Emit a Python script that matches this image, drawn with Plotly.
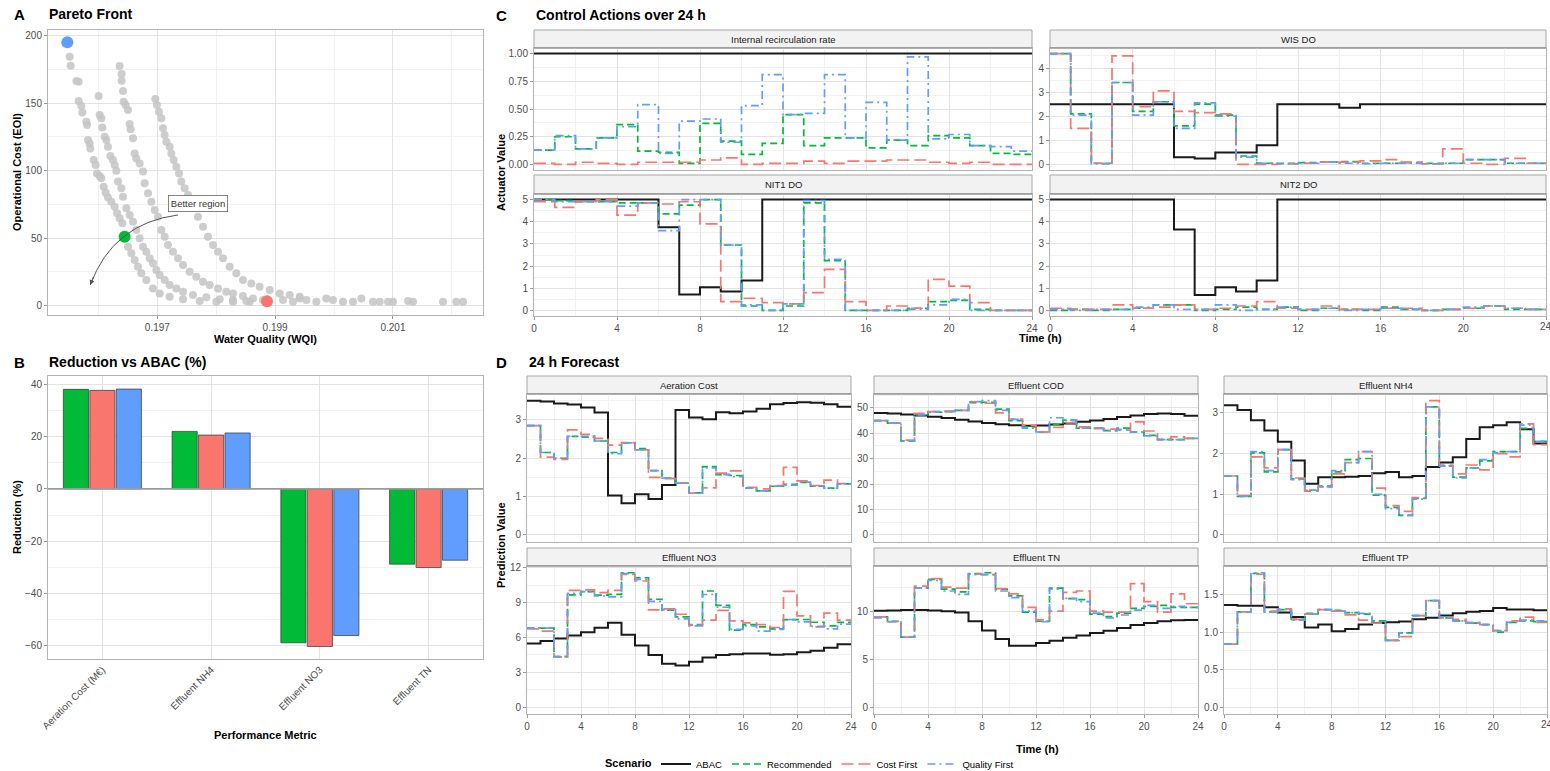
import plotly.graph_objects as go

W, H = 1550, 771
FONT = "Liberation Sans"

# ---------------- Panel A data ----------------
front_wqi = [
    0.195512, 0.195529, 0.195625, 0.195664, 0.195664, 0.195710, 0.195727, 0.195795, 0.195806, 0.195823,
    0.195851, 0.195862, 0.195919, 0.195953, 0.195976, 0.196021, 0.196049, 0.196089, 0.196123, 0.196162,
    0.196219, 0.196276, 0.196315, 0.196360, 0.196406, 0.196502, 0.196559, 0.196615, 0.196672, 0.196728,
    0.196813, 0.196926, 0.197040, 0.197209, 0.197436, 0.197719, 0.198002, 0.198285, 0.198568,
    0.196004, 0.196021, 0.196049, 0.196066, 0.196106, 0.196134, 0.196162, 0.196202, 0.196247, 0.196276,
    0.196304, 0.196332, 0.196389, 0.196417, 0.196474, 0.196530, 0.196587, 0.196643, 0.196700, 0.196757,
    0.196813, 0.196870, 0.196926, 0.196983, 0.197040, 0.197125, 0.197209, 0.197323, 0.197436, 0.197606,
    0.197832, 0.198058, 0.198285, 0.198511,
    0.196360, 0.196394, 0.196394, 0.196417, 0.196428, 0.196462, 0.196502, 0.196530, 0.196547, 0.196587,
    0.196615, 0.196643, 0.196700, 0.196757, 0.196785, 0.196842, 0.196898, 0.196955, 0.197011, 0.197068,
    0.197125, 0.197181, 0.197266, 0.197351, 0.197436, 0.197549, 0.197662, 0.197775, 0.197889, 0.198030,
    0.198171, 0.198285, 0.198454, 0.198624, 0.198794,
    0.196966, 0.196994, 0.197028, 0.197068, 0.197096, 0.197125, 0.197153, 0.197209, 0.197238, 0.197277,
    0.197323, 0.197368, 0.197407, 0.197464, 0.197521, 0.197606, 0.197690, 0.197775, 0.197860, 0.197945,
    0.198030, 0.198115, 0.198228, 0.198341, 0.198454, 0.198596, 0.198737, 0.198907, 0.199077, 0.199247,
    0.199417,
    0.199134, 0.199303, 0.199417, 0.199530, 0.199699, 0.199869, 0.199982, 0.200152, 0.200322, 0.200464,
    0.200662, 0.200775, 0.200916, 0.201001, 0.201256, 0.201341, 0.201850, 0.202076, 0.202190,
]
front_eoi = [
    184.4, 177.8, 166.4, 165.9, 151.6, 147.9, 143.0, 136.3, 133.8, 122.7,
    120.2, 116.5, 107.9, 104.2, 98.0, 96.0, 94.3, 88.1, 83.7, 80.2,
    77.0, 73.3, 68.4, 64.7, 61.0, 43.7, 38.8, 33.8, 28.9, 24.0,
    19.0, 12.8, 9.1, 6.7, 4.7, 3.5, 3.0, 3.0, 3.0,
    155.3, 141.2, 138.8, 131.9, 125.2, 122.7, 117.8, 110.9, 107.9, 104.2,
    100.0, 91.9, 86.9, 80.7, 72.1, 67.2, 62.2, 56.0, 49.9, 43.7,
    40.0, 35.1, 31.4, 26.4, 22.7, 19.0, 15.3, 12.8, 10.4, 7.9,
    6.2, 4.7, 4.2, 3.5,
    177.5, 171.6, 166.7, 159.0, 151.1, 148.6, 144.9, 134.6, 130.6, 124.0,
    112.8, 109.1, 105.4, 99.3, 90.6, 83.2, 77.0, 70.9, 65.9, 56.0,
    51.1, 44.9, 40.0, 35.1, 30.1, 25.2, 21.5, 17.8, 15.3, 12.8,
    10.4, 9.1, 7.2, 5.4, 4.2,
    153.1, 148.6, 143.7, 138.8, 131.4, 126.4, 121.5, 117.8, 112.8, 107.9,
    103.0, 98.0, 91.9, 86.9, 82.0, 74.6, 65.9, 58.5, 51.1, 44.9,
    40.0, 35.1, 28.9, 24.0, 19.0, 16.5, 14.1, 11.6, 9.1, 7.9,
    6.7,
    4.2, 3.0, 5.4, 4.2, 3.0, 5.4, 4.2, 3.0, 3.0, 5.4,
    3.0, 3.0, 3.0, 3.0, 3.5, 3.0, 3.0, 3.0, 3.0,
]
sel_names = ["Quality First", "Recommended", "Cost First"]
sel_wqi = [0.195472, 0.196445, 0.198862]
sel_eoi = [195.1, 51.1, 3.2]

# ---------------- Panel B data ----------------
metrics = ["Aeration Cost (M€)", "Effluent NH4", "Effluent NO3", "Effluent TN"]
red_recommended = [38.1, 22.0, -58.9, -28.8]
red_cost_first = [37.7, 20.6, -60.3, -30.1]
red_quality_first = [38.2, 21.4, -56.1, -27.3]

# ---------------- Panel C data (hourly) ----------------
hours = [0, 1, 2, 3, 4, 5, 6, 7, 8, 9, 10, 11, 12, 13, 14, 15, 16, 17, 18, 19, 20, 21, 22, 23]
edge_tick_label = "24"

ir_abac = [1.0, 1.0, 1.0, 1.0, 1.0, 1.0, 1.0, 1.0, 1.0, 1.0, 1.0, 1.0, 1.0, 1.0, 1.0, 1.0, 1.0, 1.0, 1.0, 1.0, 1.0, 1.0, 1.0, 1.0]
ir_rec = [0.13, 0.25, 0.14, 0.24, 0.36, 0.12, 0.11, 0.01, 0.37, 0.21, 0.09, 0.19, 0.45, 0.17, 0.24, 0.24, 0.15, 0.22, 0.17, 0.26, 0.24, 0.17, 0.10, 0.09]
ir_cf = [0.01, 0.00, 0.02, 0.01, 0.00, 0.02, 0.02, 0.02, 0.04, 0.06, 0.00, 0.01, 0.01, 0.03, 0.01, 0.03, 0.03, 0.04, 0.04, 0.02, 0.01, 0.02, 0.00, 0.00]
ir_qf = [0.13, 0.26, 0.14, 0.24, 0.34, 0.54, 0.10, 0.39, 0.41, 0.20, 0.53, 0.81, 0.45, 0.46, 0.81, 0.24, 0.56, 0.22, 0.97, 0.23, 0.27, 0.17, 0.16, 0.12]

wis_abac = [2.5, 2.5, 2.5, 2.5, 2.5, 2.5, 0.3, 0.25, 0.5, 0.5, 0.8, 2.5, 2.5, 2.5, 2.35, 2.5, 2.5, 2.5, 2.5, 2.5, 2.5, 2.5, 2.5, 2.5]
wis_rec = [4.6, 2.1, 0.05, 3.4, 2.2, 2.6, 1.6, 2.5, 2.05, 0.35, 0.05, 0.05, 0.08, 0.1, 0.12, 0.05, 0.05, 0.08, 0.05, 0.05, 0.2, 0.2, 0.05, 0.05]
wis_cf = [4.6, 1.5, 0.05, 4.5, 2.4, 3.05, 2.2, 2.15, 2.1, 0.0, 0.0, 0.02, 0.05, 0.1, 0.1, 0.15, 0.2, 0.1, 0.02, 0.65, 0.05, 0.0, 0.25, 0.05]
wis_qf = [4.6, 2.05, 0.02, 3.4, 2.05, 2.6, 1.5, 2.55, 2.0, 0.3, 0.05, 0.03, 0.05, 0.1, 0.05, 0.03, 0.05, 0.05, 0.03, 0.05, 0.2, 0.2, 0.05, 0.05]

nit1_abac = [5, 5, 5, 5, 5, 5, 3.75, 0.72, 1.05, 0.85, 1.35, 5, 5, 5, 5, 5, 5, 5, 5, 5, 5, 5, 5, 5]
nit1_rec = [5.0, 4.95, 4.9, 4.9, 4.85, 4.85, 4.35, 4.75, 5.0, 2.95, 0.2, 0.0, 0.2, 4.85, 2.25, 0.0, 0.0, 0.0, 0.1, 0.4, 0.45, 0.05, 0.0, 0.0]
nit1_cf = [4.9, 4.65, 4.9, 5.0, 4.3, 4.85, 4.8, 4.9, 3.9, 0.4, 0.55, 0.35, 0.3, 0.8, 1.85, 0.4, 0.0, 0.2, 0.1, 1.4, 1.1, 0.35, 0.0, 0.0]
nit1_qf = [5.0, 4.9, 4.9, 4.9, 4.7, 4.85, 3.6, 5.0, 5.0, 2.95, 0.25, 0.0, 0.3, 4.95, 2.3, 0.0, 0.0, 0.0, 0.05, 0.25, 0.5, 0.0, 0.0, 0.0]

nit2_abac = [5, 5, 5, 5, 5, 5, 3.65, 0.7, 1.05, 0.85, 1.35, 5, 5, 5, 5, 5, 5, 5, 5, 5, 5, 5, 5, 5]
nit2_rec = [0.0, 0.05, 0.0, 0.05, 0.1, 0.25, 0.25, 0.0, 0.05, 0.15, 0.05, 0.15, 0.0, 0.1, 0.05, 0.0, 0.15, 0.05, 0.0, 0.05, 0.1, 0.2, 0.05, 0.05]
nit2_cf = [0.1, 0.05, 0.05, 0.25, 0.1, 0.15, 0.25, 0.05, 0.1, 0.2, 0.4, 0.1, 0.05, 0.2, 0.05, 0.05, 0.1, 0.1, 0.0, 0.05, 0.1, 0.2, 0.1, 0.05]
nit2_qf = [0.05, 0.0, 0.05, 0.05, 0.15, 0.25, 0.05, 0.05, 0.25, 0.0, 0.05, 0.15, 0.05, 0.1, 0.0, 0.05, 0.1, 0.05, 0.0, 0.05, 0.15, 0.2, 0.1, 0.05]

# ---------------- Panel D data (hourly) ----------------
aer_abac = [3.50, 3.48, 3.43, 3.40, 3.32, 3.19, 1.03, 0.83, 1.06, 0.94, 1.30, 3.26, 3.06, 3.02, 3.20, 3.17, 3.22, 3.29, 3.41, 3.44, 3.46, 3.45, 3.41, 3.34]
aer_rec = [2.85, 2.15, 2.0, 2.57, 2.55, 2.45, 2.15, 2.4, 2.25, 1.68, 1.48, 1.35, 1.1, 1.78, 1.57, 1.55, 1.22, 1.15, 1.27, 1.32, 1.37, 1.27, 1.22, 1.33]
aer_cf = [2.85, 2.03, 1.97, 2.74, 2.62, 2.52, 2.34, 2.41, 2.22, 1.50, 1.47, 1.35, 1.09, 1.23, 1.61, 1.67, 1.24, 1.20, 1.29, 1.76, 1.41, 1.29, 1.43, 1.34]
aer_qf = [2.85, 2.15, 2.0, 2.57, 2.57, 2.45, 2.12, 2.4, 2.22, 1.68, 1.48, 1.35, 1.1, 1.75, 1.58, 1.52, 1.22, 1.15, 1.27, 1.3, 1.38, 1.28, 1.22, 1.33]

cod_abac = [48.0, 47.8, 47.4, 47.0, 46.5, 46.0, 45.3, 44.6, 44.0, 43.5, 43.2, 43.0, 43.1, 43.4, 43.8, 44.5, 45.0, 45.6, 46.4, 47.0, 47.6, 47.8, 47.6, 46.9]
cod_rec = [45.0, 44.0, 37.0, 47.2, 48.3, 48.5, 49.0, 52.0, 52.2, 49.5, 45.0, 42.5, 40.5, 43.5, 45.2, 42.0, 42.0, 41.0, 42.0, 40.5, 39.2, 37.5, 37.5, 38.0]
cod_cf = [45.0, 44.1, 37.3, 47.8, 48.5, 48.7, 49.0, 52.4, 51.8, 48.0, 45.6, 43.2, 40.5, 42.3, 44.1, 42.5, 41.8, 41.6, 41.2, 44.5, 40.9, 37.6, 38.6, 38.0]
cod_qf = [45.0, 44.0, 37.0, 47.2, 48.5, 48.5, 49.0, 52.5, 52.8, 49.0, 45.5, 42.0, 40.5, 46.1, 45.0, 42.0, 42.0, 41.0, 41.5, 40.5, 39.0, 37.5, 37.5, 38.0]

nh4_abac = [3.19, 3.07, 2.82, 2.57, 2.29, 1.83, 1.26, 1.42, 1.42, 1.43, 1.45, 1.52, 1.55, 1.42, 1.45, 1.67, 1.78, 1.91, 2.36, 2.65, 2.70, 2.77, 2.60, 2.25]
nh4_rec = [1.45, 0.95, 2.02, 1.55, 2.10, 1.38, 1.10, 1.20, 1.55, 1.85, 1.88, 0.98, 0.68, 0.48, 0.90, 3.15, 1.70, 1.42, 1.65, 1.82, 2.05, 2.05, 2.62, 2.30]
nh4_cf = [1.45, 0.97, 1.92, 1.65, 2.10, 1.40, 1.08, 1.18, 1.50, 1.78, 2.05, 1.15, 0.72, 0.58, 0.92, 3.30, 1.72, 1.50, 1.72, 1.60, 2.00, 1.92, 2.73, 2.22]
nh4_qf = [1.45, 0.95, 2.05, 1.58, 2.10, 1.36, 1.10, 1.18, 1.58, 1.78, 2.05, 1.00, 0.65, 0.48, 0.88, 3.15, 1.70, 1.40, 1.65, 1.85, 2.02, 2.05, 2.70, 2.30]

no3_abac = [5.49, 5.69, 5.91, 6.17, 6.46, 6.83, 7.26, 6.23, 5.31, 4.49, 3.74, 3.60, 3.91, 4.29, 4.49, 4.57, 4.63, 4.63, 4.51, 4.55, 4.74, 4.85, 5.11, 5.43]
no3_rec = [6.8, 6.8, 4.35, 9.66, 9.95, 9.65, 9.71, 11.57, 11.14, 9.29, 8.35, 7.77, 7.1, 10.0, 8.77, 6.63, 7.1, 6.91, 6.75, 7.54, 7.55, 7.31, 7.0, 7.3]
no3_cf = [6.74, 6.54, 4.34, 10.06, 10.1, 9.86, 10.06, 11.43, 10.86, 8.37, 8.46, 8.0, 7.06, 7.49, 8.34, 7.43, 7.26, 7.11, 6.86, 9.97, 7.86, 6.91, 8.09, 7.49]
no3_qf = [6.8, 6.8, 4.35, 9.8, 9.95, 9.57, 9.5, 11.5, 11.0, 9.1, 8.4, 7.6, 7.0, 9.7, 8.6, 6.7, 7.0, 6.55, 6.7, 7.55, 7.35, 6.95, 6.75, 7.15]

tn_abac = [10.05, 10.08, 10.12, 10.12, 10.08, 10.0, 9.85, 8.95, 8.0, 7.1, 6.4, 6.4, 6.68, 6.92, 7.24, 7.48, 7.73, 7.97, 8.25, 8.57, 8.78, 8.95, 9.05, 9.08]
tn_rec = [9.4, 8.95, 7.3, 12.4, 13.3, 12.3, 12.0, 13.9, 14.0, 12.3, 11.6, 9.9, 8.95, 12.4, 11.3, 11.2, 9.7, 9.44, 9.8, 10.3, 10.5, 10.6, 10.4, 10.4]
tn_cf = [9.4, 8.92, 7.3, 12.6, 13.4, 12.5, 12.4, 13.85, 13.8, 12.34, 11.8, 10.4, 9.1, 10.0, 11.96, 12.1, 10.0, 9.9, 9.9, 12.87, 11.0, 9.9, 11.8, 10.77]
tn_qf = [9.3, 8.9, 7.3, 12.4, 13.2, 12.1, 11.75, 13.8, 13.8, 12.1, 11.4, 10.0, 8.9, 12.3, 11.33, 11.0, 9.8, 9.3, 9.6, 10.1, 10.6, 10.3, 10.5, 10.4]

tp_abac = [1.36, 1.35, 1.35, 1.33, 1.26, 1.20, 1.06, 1.10, 1.01, 1.04, 1.10, 1.12, 1.13, 1.14, 1.17, 1.19, 1.22, 1.25, 1.27, 1.28, 1.32, 1.30, 1.30, 1.29]
tp_rec = [0.84, 1.27, 1.78, 1.27, 1.30, 1.17, 1.25, 1.30, 1.29, 1.26, 1.24, 1.15, 0.89, 0.99, 1.22, 1.42, 1.19, 1.15, 1.12, 1.10, 1.00, 1.13, 1.15, 1.14]
tp_cf = [0.84, 1.27, 1.77, 1.28, 1.31, 1.17, 1.24, 1.30, 1.28, 1.23, 1.16, 1.12, 0.89, 0.94, 1.22, 1.42, 1.19, 1.17, 1.13, 1.10, 1.02, 1.15, 1.20, 1.13]
tp_qf = [0.84, 1.27, 1.79, 1.27, 1.30, 1.16, 1.24, 1.30, 1.28, 1.26, 1.25, 1.14, 0.89, 0.99, 1.22, 1.42, 1.20, 1.15, 1.12, 1.10, 1.02, 1.13, 1.16, 1.15]

scenarios = ["ABAC", "Recommended", "Cost First", "Quality First"]
COL = {"ABAC": "#1a1a1a", "Recommended": "#00BA38", "Cost First": "#F8766D", "Quality First": "#619CFF"}
DASH = {"ABAC": "solid", "Recommended": "7px,4px", "Cost First": "12px,5px", "Quality First": "8px,4px,2px,4px"}
WID = {"ABAC": 2.0, "Recommended": 1.7, "Cost First": 1.7, "Quality First": 1.7}

GRID = "#e3e3e3"
MINOR = "#f1f1f1"
BORDER = "#b3b3b3"
TICKC = "#4d4d4d"


def dx(a, b):
    return [a / W, b / W]


def dy(top, bottom):
    return [1 - bottom / H, 1 - top / H]


def px(v):
    return v / W


def py(v):
    return 1 - v / H


fig = go.Figure()
layout = {}
annotations = []
shapes = []


def base_axis(**kw):
    d = dict(showline=True, linecolor=BORDER, linewidth=1, mirror=True,
             showgrid=True, gridcolor=GRID, gridwidth=1, zeroline=False,
             ticks="outside", ticklen=3, tickcolor="#999999",
             tickfont=dict(size=10, color=TICKC, family=FONT))
    d.update(kw)
    return d


# ---------------- Panel A ----------------
fig.add_trace(go.Scatter(x=front_wqi, y=front_eoi, mode="markers",
                         marker=dict(size=8, color="#c4c4c4", opacity=0.85),
                         showlegend=False, hoverinfo="skip", xaxis="x", yaxis="y"))
fig.add_trace(go.Scatter(x=sel_wqi, y=sel_eoi, mode="markers",
                         marker=dict(size=12, color=[COL[n] for n in sel_names]),
                         showlegend=False, hoverinfo="skip", xaxis="x", yaxis="y"))
layout["xaxis"] = base_axis(domain=dx(48, 483), anchor="y", range=[0.195144, 0.202529],
                            tick0=0.197, dtick=0.002, tickformat=".3f",
                            minor=dict(dtick=0.001, showgrid=True, gridcolor=MINOR))
layout["yaxis"] = base_axis(domain=dy(30, 315), anchor="x", range=[-6.9, 204.2],
                            tick0=0, dtick=50, minor=dict(dtick=25, showgrid=True, gridcolor=MINOR))

shapes.append(dict(type="path", xref="x", yref="y",
                   path="M 0.197351,67.2 Q 0.196247,61.0 0.195862,15.3",
                   line=dict(color="#555555", width=1)))
annotations.append(dict(x=0.195862, y=15.3, xref="x", yref="y", ax=3.4, ay=-9.3,
                        text="", showarrow=True, arrowhead=2, arrowsize=1, arrowwidth=1,
                        arrowcolor="#555555"))
annotations.append(dict(x=0.197696, y=75.6, xref="x", yref="y", text="Better region",
                        showarrow=False, xanchor="center", yanchor="middle",
                        font=dict(size=9.5, color="#333333", family=FONT),
                        bgcolor="white", bordercolor="#666666", borderwidth=0.8, borderpad=2))

# ---------------- Panel B ----------------
bar_sets = [("Recommended", red_recommended), ("Cost First", red_cost_first), ("Quality First", red_quality_first)]
for name, vals in bar_sets:
    fig.add_trace(go.Bar(x=metrics, y=vals, name=name, marker=dict(color=COL[name], line=dict(color="#333333", width=0.7)),
                         showlegend=False, hoverinfo="skip", xaxis="x2", yaxis="y2"))
layout["xaxis2"] = base_axis(domain=dx(48, 483), anchor="y2", tickangle=-45, ticks="")
layout["yaxis2"] = base_axis(domain=dy(376, 659), anchor="x2", range=[-65.1, 43.2],
                             tick0=0, dtick=20, minor=dict(dtick=10, showgrid=True, gridcolor=MINOR))
shapes.append(dict(type="line", xref="x2 domain", yref="y2", x0=0, x1=1, y0=0, y1=0,
                   line=dict(color="#9a9a9a", width=1.6), layer="above"))


def step_traces(series, xa, ya, legend):
    for name, vals in zip(scenarios, series):
        xs = hours + [24]
        ys = list(vals) + [vals[-1]]
        fig.add_trace(go.Scatter(x=xs, y=ys, mode="lines", name=name, legendgroup=name,
                                 showlegend=legend,
                                 line=dict(shape="hv", color=COL[name], width=WID[name], dash=DASH[name]),
                                 hoverinfo="skip", xaxis=xa, yaxis=ya))


def strip(x0, x1, y0, y1, label):
    shapes.append(dict(type="rect", xref="paper", yref="paper", x0=px(x0), x1=px(x1), y0=py(y1), y1=py(y0),
                       fillcolor="#f2f2f2", line=dict(color="#a6a6a6", width=1), layer="below"))
    shapes.append(dict(type="line", xref="paper", yref="paper", x0=px(x0), x1=px(x1), y0=py(y1), y1=py(y1),
                       line=dict(color="#8c8c8c", width=1.2)))
    annotations.append(dict(x=px((x0 + x1) / 2), y=py((y0 + y1) / 2), xref="paper", yref="paper",
                            xanchor="center", yanchor="middle",
                            text=label, showarrow=False, font=dict(size=9.5, color="#1a1a1a", family=FONT)))


def time_axis(n, dom, labels):
    layout["xaxis%d" % n] = base_axis(domain=dom, anchor="y%d" % n, range=[0, 24], tick0=0, dtick=4,
                                      showticklabels=labels, ticks="outside" if labels else "",
                                      minor=dict(dtick=2, showgrid=True, gridcolor=MINOR))


def val_axis(n, dom, rng, dtick, mdt, fmt=None):
    kw = dict(domain=dom, anchor="x%d" % n, range=rng, tick0=0, dtick=dtick,
              minor=dict(dtick=mdt, showgrid=True, gridcolor=MINOR))
    if fmt:
        kw["tickformat"] = fmt
    layout["yaxis%d" % n] = base_axis(**kw)


# ---------------- Panel C ----------------
cL, cR = (534, 1032), (1050, 1546)
r1s, r1 = (30, 48), (48, 170)
r2s, r2 = (175, 194), (194, 316)
c_panels = [
    (3, cL, r1, r1s, "Internal recirculation rate", [ir_abac, ir_rec, ir_cf, ir_qf], [-0.05, 1.05], 0.25, 0.125, ".2f", False),
    (4, cR, r1, r1s, "WIS DO", [wis_abac, wis_rec, wis_cf, wis_qf], [-0.23, 4.83], 1, 0.5, None, False),
    (5, cL, r2, r2s, "NIT1 DO", [nit1_abac, nit1_rec, nit1_cf, nit1_qf], [-0.25, 5.25], 1, 0.5, None, True),
    (6, cR, r2, r2s, "NIT2 DO", [nit2_abac, nit2_rec, nit2_cf, nit2_qf], [-0.25, 5.25], 1, 0.5, None, True),
]
first = True
for n, cx, ry, rs, label, series, rng, dt, mdt, fmt, lab in c_panels:
    step_traces(series, "x%d" % n, "y%d" % n, first)
    first = False
    time_axis(n, dx(*cx), lab)
    val_axis(n, dy(*ry), rng, dt, mdt, fmt)
    strip(cx[0], cx[1], rs[0], rs[1], label)

# ---------------- Panel D ----------------
d1, d2, d3 = (527, 851), (874, 1198), (1224, 1547)
q1s, q1 = (376, 394), (394, 541.7)
q2s, q2 = (548, 566), (566, 714)
d_panels = [
    (7, d1, q1, q1s, "Aeration Cost", [aer_abac, aer_rec, aer_cf, aer_qf], [-0.175, 3.675], 1, 0.5, None, False),
    (8, d2, q1, q1s, "Effluent COD", [cod_abac, cod_rec, cod_cf, cod_qf], [-2.64, 55.44], 10, 5, None, False),
    (9, d3, q1, q1s, "Effluent NH4", [nh4_abac, nh4_rec, nh4_cf, nh4_qf], [-0.165, 3.465], 1, 0.5, None, False),
    (10, d1, q2, q2s, "Effluent NO3", [no3_abac, no3_rec, no3_cf, no3_qf], [-0.58, 12.15], 3, 1.5, None, True),
    (11, d2, q2, q2s, "Effluent TN", [tn_abac, tn_rec, tn_cf, tn_qf], [-0.7, 14.7], 5, 2.5, None, True),
    (12, d3, q2, q2s, "Effluent TP", [tp_abac, tp_rec, tp_cf, tp_qf], [-0.09, 1.88], 0.5, 0.25, ".1f", True),
]
for n, cx, ry, rs, label, series, rng, dt, mdt, fmt, lab in d_panels:
    step_traces(series, "x%d" % n, "y%d" % n, False)
    time_axis(n, dx(*cx), lab)
    val_axis(n, dy(*ry), rng, dt, mdt, fmt)
    strip(cx[0], cx[1], rs[0], rs[1], label)

# right-edge "24" tick labels (plotly drops labels that overflow the page)
for xa, ya in (("x6", "y6"), ("x12", "y12")):
    annotations.append(dict(x=24, y=0, xref=xa, yref="%s domain" % ya, text=edge_tick_label,
                            showarrow=False, xanchor="center", yanchor="top", yshift=-3,
                            font=dict(size=10, color=TICKC, family=FONT)))


# ---------------- titles & axis labels ----------------
def text(xp, yp, s, size=11, bold=True, anchor="center", angle=0, color="#000000"):
    annotations.append(dict(x=px(xp), y=py(yp), xref="paper", yref="paper",
                            text="<b>%s</b>" % s if bold else s, showarrow=False, textangle=angle,
                            xanchor=anchor, yanchor="middle",
                            font=dict(size=size, color=color, family=FONT)))


text(12, 14, "A", 15, anchor="left")
text(47, 14, "Pareto Front", 14, anchor="left")
text(12, 362, "B", 15, anchor="left")
text(47, 362, "Reduction vs ABAC (%)", 14, anchor="left")
text(494, 15, "C", 15, anchor="left")
text(534, 15, "Control Actions over 24 h", 14, anchor="left")
text(494, 362, "D", 15, anchor="left")
text(527, 362, "24 h Forecast", 14, anchor="left")

text(265, 339, "Water Quality (WQI)", 11)
text(17, 172, "Operational Cost (EOI)", 11, angle=-90)
text(17, 517, "Reduction (%)", 11, angle=-90)
text(265, 735, "Performance Metric", 11)
text(1040, 338, "Time (h)", 11)
text(501, 173, "Actuator Value", 11, angle=-90)
text(1037, 749, "Time (h)", 11)
text(501, 545, "Prediction Value", 11, angle=-90)
text(628, 763, "Scenario", 11)

fig.update_layout(
    width=W, height=H,
    margin=dict(l=0, r=0, t=0, b=0, autoexpand=False),
    paper_bgcolor="white", plot_bgcolor="white",
    font=dict(family=FONT, size=10, color="#000000"),
    barmode="group", bargap=0.27, bargroupgap=0.05,
    showlegend=True,
    legend=dict(orientation="h", x=px(656), xanchor="left", y=py(764), yanchor="middle",
                font=dict(size=9.5, family=FONT), itemwidth=30, bgcolor="rgba(0,0,0,0)"),
    annotations=annotations,
    shapes=shapes,
    **layout,
)

fig.write_html("out.html")
